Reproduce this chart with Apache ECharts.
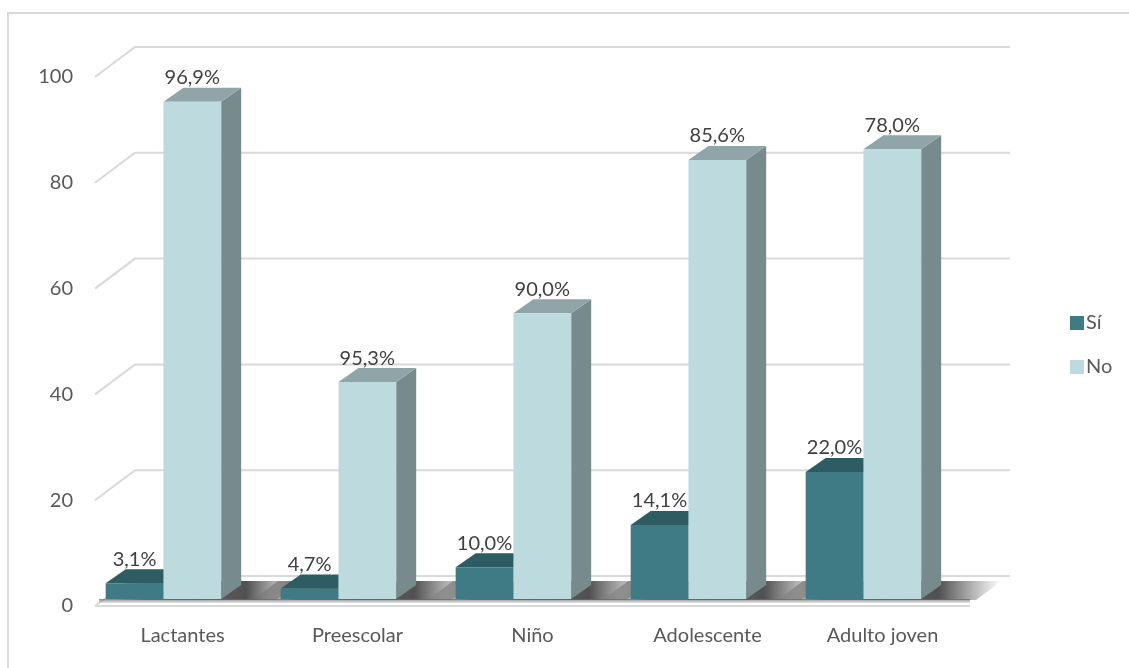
<!DOCTYPE html>
<html>
<head>
<meta charset="utf-8">
<script src="https://cdn.jsdelivr.net/npm/echarts@6/dist/echarts.min.js"></script>
<style>
  html, body { margin: 0; padding: 0; background: #ffffff; }
  #chart { width: 1129px; height: 668px; }
</style>
</head>
<body>
<div id="chart"></div>
<script>
// Age groups on the category axis
const categories = ['Lactantes', 'Preescolar', 'Niño', 'Adolescente', 'Adulto joven'];
// Counts per group (bar heights)
const siCounts = [3, 2, 6, 14, 24];
const noCounts = [94, 41, 54, 83, 85];
// Row percentages shown above each bar
const siPct = ['3,1%', '4,7%', '10,0%', '14,1%', '22,0%'];
const noPct = ['96,9%', '95,3%', '90,0%', '85,6%', '78,0%'];
// Value axis
const yMin = 0, yMax = 100, yStep = 20;

// Projection of the 3D box: offset from the floor's front edge to the back wall
const WALL = { x: 40, y: -30 };
// Front face of the columns sits a little behind the floor's front edge
const PLANE = { x: 9, y: -7 };
// Column depth
const DEPTH = { x: 20, y: -14 };

const FONT = 'Lato, "Noto Sans", sans-serif';
const GRID_COLOR = '#d9d9d9';

const palette = {
  si: { front: '#3f7b84', top: '#2e5c63', side: '#2b565d' },
  no: { front: '#bddbdf', top: '#8fa5a8', side: '#778a8c' }
};

function bandInfo(api) {
  return api.size([1, 0])[0];
}

function columnRenderer(kind, labels) {
  const col = palette[kind];
  return function (params, api) {
    const i = api.value(0);
    const v = api.value(1);
    const band = bandInfo(api);
    const base = api.coord([i, 0]);
    const top = api.coord([i, v]);
    const w = band * 0.33;
    const gc = base[0] - band * 0.109;
    const x0 = kind === 'si' ? gc - w : gc;
    const x1 = x0 + w;
    const yB = base[1] + PLANE.y;
    const yT = top[1] + PLANE.y;
    return {
      type: 'group',
      children: [
        {
          type: 'polygon',
          shape: { points: [[x1, yT], [x1 + DEPTH.x, yT + DEPTH.y], [x1 + DEPTH.x, yB + DEPTH.y], [x1, yB]] },
          style: { fill: col.side }
        },
        {
          type: 'polygon',
          shape: { points: [[x0, yT], [x1, yT], [x1 + DEPTH.x, yT + DEPTH.y], [x0 + DEPTH.x, yT + DEPTH.y]] },
          style: { fill: col.top }
        },
        {
          type: 'rect',
          shape: { x: x0, y: yT, width: w, height: yB - yT },
          style: { fill: col.front }
        },
        {
          type: 'text',
          x: x0 + w / 2,
          y: yT - 24,
          style: {
            text: labels[params.dataIndex],
            fill: '#404040',
            font: '20px ' + FONT,
            align: 'center',
            verticalAlign: 'middle'
          }
        }
      ]
    };
  };
}

// Back wall gridlines, side-wall diagonals, floor edges and soft column shadows
function wallRenderer(params, api) {
  const band = bandInfo(api);
  const n = categories.length;
  const left = api.coord([0, 0])[0] - band / 2;
  const right = left + band * n;
  const children = [];
  const lineStyle = { stroke: GRID_COLOR, lineWidth: 2 };

  const y0 = api.coord([0, 0])[1];

  // back-wall gridlines with their diagonal on the side wall
  for (let v = yMin; v <= yMax; v += yStep) {
    const y = api.coord([0, v])[1];
    children.push({
      type: 'polyline',
      shape: { points: [[left, y], [left + WALL.x, y + WALL.y], [right + WALL.x, y + WALL.y]] },
      style: Object.assign({ fill: null }, lineStyle)
    });
  }

  // floor shadows around each column pair, kept inside the floor
  const yf = y0 + PLANE.y + 1;
  const yb = y0 + WALL.y + 5;
  const k = (yf - yb) / (-WALL.y);
  const floorLeft = left + PLANE.x;
  for (let i = 0; i < n; i++) {
    const c = api.coord([i, 0])[0] - band * 0.109;
    const L = Math.max(c - band * 0.33 - 28, floorLeft);
    const R = c + band * 0.33 + 55;
    children.push({
      type: 'polygon',
      shape: { points: [[L, yf], [R, yf], [R + WALL.x * k, yb], [L + WALL.x * k, yb]] },
      style: {
        fill: {
          type: 'linear', x: 0, y: 0, x2: 1, y2: 0,
          colorStops: [
            { offset: 0, color: 'rgba(70,70,70,0)' },
            { offset: 0.2, color: 'rgba(70,70,70,0.75)' },
            { offset: 0.72, color: 'rgba(50,50,50,0.85)' },
            { offset: 1, color: 'rgba(70,70,70,0)' }
          ]
        }
      }
    });
  }
  // darker strip along the front of the floor
  children.push({
    type: 'rect',
    shape: { x: left + 4, y: y0 + PLANE.y, width: right - left - 4, height: 4 },
    style: {
      fill: {
        type: 'linear', x: 0, y: 0, x2: 0, y2: 1,
        colorStops: [
          { offset: 0, color: 'rgba(90,90,90,0.7)' },
          { offset: 1, color: 'rgba(200,200,200,0.5)' }
        ]
      }
    }
  });
  // front edge of the floor
  children.push({
    type: 'line',
    shape: { x1: left, y1: y0, x2: right, y2: y0 },
    style: lineStyle
  });
  return { type: 'group', children: children };
}

const chart = echarts.init(document.getElementById('chart'), null, { renderer: 'canvas' });

chart.setOption({
  animation: false,
  backgroundColor: '#ffffff',
  graphic: [{
    type: 'rect',
    shape: { x: 8, y: 13, width: 1140, height: 700 },
    style: { fill: null, stroke: '#d9d9d9', lineWidth: 2 },
    silent: true,
    z: -10
  }],
  legend: {
    orient: 'vertical',
    left: 1065,
    top: 308,
    itemWidth: 14,
    itemHeight: 14,
    itemGap: 24,
    icon: 'rect',
    data: ['Sí', 'No'],
    textStyle: { color: '#595959', fontSize: 20, fontFamily: FONT, padding: [0, 0, 0, -3] }
  },
  grid: { left: 95, right: 159, top: 77, bottom: 62, containLabel: false },
  xAxis: {
    type: 'category',
    data: categories,
    boundaryGap: true,
    axisLine: { show: false },
    axisTick: { show: false },
    axisLabel: { color: '#595959', fontSize: 20, fontFamily: FONT, margin: 20 }
  },
  yAxis: {
    type: 'value',
    min: yMin,
    max: yMax,
    interval: yStep,
    axisLine: { show: false },
    axisTick: { show: false },
    splitLine: { show: false },
    axisLabel: { color: '#595959', fontSize: 20, fontFamily: FONT, margin: 22 }
  },
  series: [
    {
      name: 'walls',
      type: 'custom',
      silent: true,
      renderItem: wallRenderer,
      data: [[0, 0]],
      z: 1
    },
    {
      name: 'Sí',
      type: 'custom',
      renderItem: columnRenderer('si', siPct),
      itemStyle: { color: palette.si.front },
      data: siCounts.map((v, i) => [i, v]),
      z: 2
    },
    {
      name: 'No',
      type: 'custom',
      renderItem: columnRenderer('no', noPct),
      itemStyle: { color: palette.no.front },
      data: noCounts.map((v, i) => [i, v]),
      z: 3
    }
  ]
});
</script>
</body>
</html>
